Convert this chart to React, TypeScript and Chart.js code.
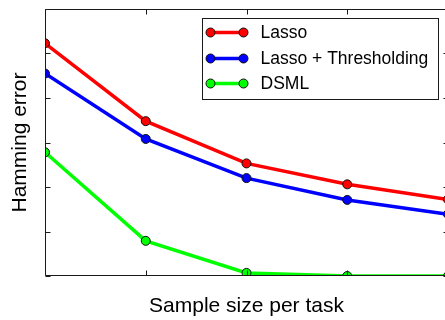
import React, { useEffect, useRef } from 'react';
import { Chart, registerables } from 'chart.js';

Chart.register(...registerables);

// ---- data ----
const sampleSizes = ['1', '2', '3', '4', '5'];
const lassoErrors = [5.23, 3.48, 2.53, 2.06, 1.72];
const thresholdErrors = [4.55, 3.08, 2.2, 1.71, 1.39];
const dsmlErrors = [2.78, 0.79, 0.07, 0, 0];
const seriesNames = ['Lasso', 'Lasso + Thresholding', 'DSML'];
const seriesColors = ['#ff0000', '#0000ff', '#00ff00'];
const yMin = 0;
const yMax = 6;
const xTitle = 'Sample size per task';
const yTitle = 'Hamming error';

const FONT = "'Liberation Sans', Arial, Helvetica, sans-serif";
const CANVAS_W = 460;
const CANVAS_H = 320;

const frameAndLegend = {
  id: 'frameAndLegend',
  afterDatasetsDraw(chart: any) {
    const { ctx, chartArea: a, scales } = chart;
    const xs = scales.x;
    const ys = scales.y;
    ctx.save();
    ctx.strokeStyle = '#1a1a1a';
    ctx.lineWidth = 1;
    const L = Math.round(a.left) + 0.5;
    const T = Math.round(a.top) + 0.5;
    const R = Math.round(a.right) + 0.5;
    const B = Math.round(a.bottom) - 0.5;
    ctx.beginPath();
    ctx.moveTo(L, T);
    ctx.lineTo(R, T);
    ctx.lineTo(R, B);
    ctx.lineTo(L, B);
    ctx.closePath();
    ctx.stroke();
    const tl = 5;
    ctx.beginPath();
    xs.ticks.forEach((_t: any, i: number) => {
      const px = Math.round(xs.getPixelForTick(i)) + 0.5;
      ctx.moveTo(px, B);
      ctx.lineTo(px, B - tl);
      ctx.moveTo(px, T);
      ctx.lineTo(px, T + tl);
    });
    ys.ticks.forEach((_t: any, i: number) => {
      const py = Math.round(ys.getPixelForTick(i)) + 0.5;
      ctx.moveTo(L, py);
      ctx.lineTo(L + tl, py);
      ctx.moveTo(R, py);
      ctx.lineTo(R - tl, py);
    });
    ctx.stroke();

    // legend box
    const bw = 236;
    const bh = 81;
    const bx = Math.round(a.right - 10 - bw) + 0.5;
    const by = Math.round(a.top + 9) + 0.5;
    ctx.fillStyle = '#ffffff';
    ctx.fillRect(bx, by, bw, bh);
    ctx.strokeStyle = '#1a1a1a';
    ctx.strokeRect(bx, by, bw, bh);
    const rows = [14, 40, 65];
    chart.data.datasets.forEach((ds: any, i: number) => {
      const cy = by + rows[i];
      const x1 = bx + 8;
      const x2 = bx + 41;
      ctx.strokeStyle = ds.borderColor;
      ctx.lineWidth = 3.5;
      ctx.beginPath();
      ctx.moveTo(x1, cy);
      ctx.lineTo(x2, cy);
      ctx.stroke();
      [x1, x2].forEach((mx) => {
        ctx.beginPath();
        ctx.arc(mx, cy, 4.5, 0, Math.PI * 2);
        ctx.fillStyle = ds.pointBackgroundColor;
        ctx.fill();
        ctx.lineWidth = 1;
        ctx.strokeStyle = '#111';
        ctx.stroke();
      });
      ctx.fillStyle = '#000';
      ctx.font = `17.5px ${FONT}`;
      ctx.textBaseline = 'middle';
      ctx.textAlign = 'left';
      ctx.fillText(ds.label, bx + 58, cy + 1);
    });
    ctx.restore();
  },
};

export default function App() {
  const ref = useRef<HTMLCanvasElement | null>(null);
  useEffect(() => {
    if (!ref.current) return;
    const series = [lassoErrors, thresholdErrors, dsmlErrors];
    const chart = new Chart(ref.current, {
      type: 'line',
      data: {
        labels: sampleSizes,
        datasets: series.map((values, i) => ({
          label: seriesNames[i],
          data: values,
          borderColor: seriesColors[i],
          backgroundColor: seriesColors[i],
          borderWidth: 3.5,
          pointRadius: 4.5,
          pointBorderWidth: 1,
          pointBackgroundColor: seriesColors[i],
          pointBorderColor: '#111',
          tension: 0,
          fill: false,
          clip: 0,
        })),
      },
      options: {
        responsive: false,
        animation: false,
        devicePixelRatio: 1,
        layout: { padding: { top: 9, right: CANVAS_W - 448, left: 0, bottom: 0 } },
        plugins: { legend: { display: false }, tooltip: { enabled: false } },
        scales: {
          x: {
            type: 'category',
            offset: false,
            grid: { display: false, drawTicks: false },
            border: { display: false },
            ticks: { display: false },
            title: {
              display: true,
              text: xTitle,
              color: '#000',
              font: { family: FONT, size: 21 },
              padding: { top: 17.8, bottom: 1 },
            },
          },
          y: {
            min: yMin,
            max: yMax,
            grid: { display: false, drawTicks: false },
            border: { display: false },
            ticks: { display: false, stepSize: 1 },
            title: {
              display: true,
              text: yTitle,
              color: '#000',
              font: { family: FONT, size: 21 },
              padding: { top: 7.5, bottom: 12.3 },
            },
          },
        },
      },
      plugins: [frameAndLegend],
    } as any);
    return () => chart.destroy();
  }, []);
  return (
    <div
      style={{
        position: 'fixed',
        left: 0,
        top: 0,
        width: 445,
        height: 320,
        overflow: 'hidden',
        background: '#fff',
      }}
    >
      <canvas ref={ref} width={CANVAS_W} height={CANVAS_H} style={{ display: 'block', width: CANVAS_W, height: CANVAS_H }} />
    </div>
  );
}
